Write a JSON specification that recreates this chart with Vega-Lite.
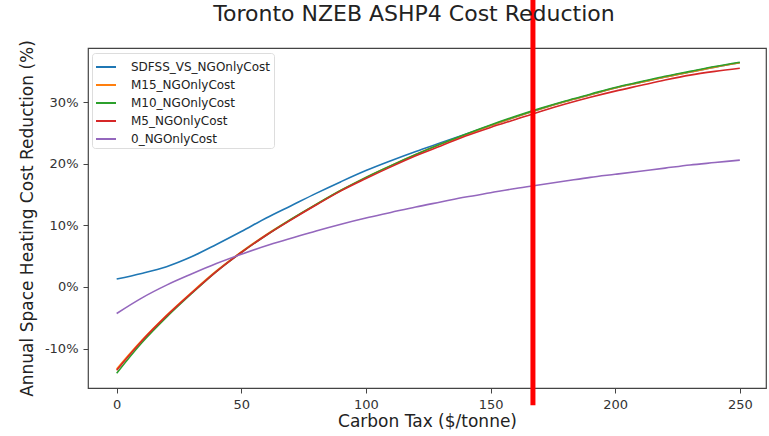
{
  "$schema": "https://vega.github.io/schema/vega-lite/v6.json",
  "width": 678,
  "height": 340,
  "autosize": {"type": "none"},
  "padding": {"left": 88, "top": 48, "right": 3, "bottom": 48},
  "background": "white",
  "config": {
    "font": "DejaVu Sans",
    "view": {"stroke": "#444", "strokeWidth": 1.2},
    "axis": {"grid": false, "domain": false, "tickColor": "#444", "tickSize": 5, "labelColor": "#333", "titleColor": "#222", "labelFontSize": 13, "titleFontSize": 17, "titleFontWeight": "normal", "labelFont": "DejaVu Sans", "titleFont": "DejaVu Sans"}
  },
  "title": {"text": "Toronto NZEB ASHP4 Cost Reduction", "fontSize": 22, "fontWeight": "normal", "font": "DejaVu Sans", "color": "#222", "offset": -29, "dx": -13},
  "datasets": {
    "curves": [
      {"tax":0,"series":"SDFSS_VS_NGOnlyCost","value":1.3},{"tax":10,"series":"SDFSS_VS_NGOnlyCost","value":2.2},{"tax":20,"series":"SDFSS_VS_NGOnlyCost","value":3.3},{"tax":30,"series":"SDFSS_VS_NGOnlyCost","value":4.9},{"tax":40,"series":"SDFSS_VS_NGOnlyCost","value":6.9},{"tax":50,"series":"SDFSS_VS_NGOnlyCost","value":9.0},{"tax":60,"series":"SDFSS_VS_NGOnlyCost","value":11.2},{"tax":70,"series":"SDFSS_VS_NGOnlyCost","value":13.2},{"tax":80,"series":"SDFSS_VS_NGOnlyCost","value":15.2},{"tax":90,"series":"SDFSS_VS_NGOnlyCost","value":17.1},{"tax":100,"series":"SDFSS_VS_NGOnlyCost","value":18.9},{"tax":110,"series":"SDFSS_VS_NGOnlyCost","value":20.5},{"tax":120,"series":"SDFSS_VS_NGOnlyCost","value":22.0},{"tax":130,"series":"SDFSS_VS_NGOnlyCost","value":23.4},{"tax":140,"series":"SDFSS_VS_NGOnlyCost","value":24.8},{"tax":150,"series":"SDFSS_VS_NGOnlyCost","value":26.2},{"tax":160,"series":"SDFSS_VS_NGOnlyCost","value":27.6},{"tax":170,"series":"SDFSS_VS_NGOnlyCost","value":28.9},{"tax":180,"series":"SDFSS_VS_NGOnlyCost","value":30.1},{"tax":190,"series":"SDFSS_VS_NGOnlyCost","value":31.2},{"tax":200,"series":"SDFSS_VS_NGOnlyCost","value":32.3},{"tax":210,"series":"SDFSS_VS_NGOnlyCost","value":33.2},{"tax":220,"series":"SDFSS_VS_NGOnlyCost","value":34.1},{"tax":230,"series":"SDFSS_VS_NGOnlyCost","value":34.9},{"tax":240,"series":"SDFSS_VS_NGOnlyCost","value":35.7},{"tax":250,"series":"SDFSS_VS_NGOnlyCost","value":36.4},
      {"tax":0,"series":"M15_NGOnlyCost","value":-13.3},{"tax":10,"series":"M15_NGOnlyCost","value":-8.7},{"tax":20,"series":"M15_NGOnlyCost","value":-4.6},{"tax":30,"series":"M15_NGOnlyCost","value":-0.9},{"tax":40,"series":"M15_NGOnlyCost","value":2.6},{"tax":50,"series":"M15_NGOnlyCost","value":5.7},{"tax":60,"series":"M15_NGOnlyCost","value":8.5},{"tax":70,"series":"M15_NGOnlyCost","value":11.0},{"tax":80,"series":"M15_NGOnlyCost","value":13.4},{"tax":90,"series":"M15_NGOnlyCost","value":15.7},{"tax":100,"series":"M15_NGOnlyCost","value":17.8},{"tax":110,"series":"M15_NGOnlyCost","value":19.7},{"tax":120,"series":"M15_NGOnlyCost","value":21.5},{"tax":130,"series":"M15_NGOnlyCost","value":23.2},{"tax":140,"series":"M15_NGOnlyCost","value":24.7},{"tax":150,"series":"M15_NGOnlyCost","value":26.2},{"tax":160,"series":"M15_NGOnlyCost","value":27.6},{"tax":170,"series":"M15_NGOnlyCost","value":28.9},{"tax":180,"series":"M15_NGOnlyCost","value":30.1},{"tax":190,"series":"M15_NGOnlyCost","value":31.2},{"tax":200,"series":"M15_NGOnlyCost","value":32.3},{"tax":210,"series":"M15_NGOnlyCost","value":33.2},{"tax":220,"series":"M15_NGOnlyCost","value":34.1},{"tax":230,"series":"M15_NGOnlyCost","value":34.9},{"tax":240,"series":"M15_NGOnlyCost","value":35.7},{"tax":250,"series":"M15_NGOnlyCost","value":36.4},
      {"tax":0,"series":"M10_NGOnlyCost","value":-14.0},{"tax":10,"series":"M10_NGOnlyCost","value":-9.1},{"tax":20,"series":"M10_NGOnlyCost","value":-4.9},{"tax":30,"series":"M10_NGOnlyCost","value":-1.1},{"tax":40,"series":"M10_NGOnlyCost","value":2.5},{"tax":50,"series":"M10_NGOnlyCost","value":5.6},{"tax":60,"series":"M10_NGOnlyCost","value":8.4},{"tax":70,"series":"M10_NGOnlyCost","value":11.0},{"tax":80,"series":"M10_NGOnlyCost","value":13.4},{"tax":90,"series":"M10_NGOnlyCost","value":15.7},{"tax":100,"series":"M10_NGOnlyCost","value":17.8},{"tax":110,"series":"M10_NGOnlyCost","value":19.7},{"tax":120,"series":"M10_NGOnlyCost","value":21.5},{"tax":130,"series":"M10_NGOnlyCost","value":23.2},{"tax":140,"series":"M10_NGOnlyCost","value":24.8},{"tax":150,"series":"M10_NGOnlyCost","value":26.3},{"tax":160,"series":"M10_NGOnlyCost","value":27.7},{"tax":170,"series":"M10_NGOnlyCost","value":29.0},{"tax":180,"series":"M10_NGOnlyCost","value":30.2},{"tax":190,"series":"M10_NGOnlyCost","value":31.3},{"tax":200,"series":"M10_NGOnlyCost","value":32.4},{"tax":210,"series":"M10_NGOnlyCost","value":33.3},{"tax":220,"series":"M10_NGOnlyCost","value":34.2},{"tax":230,"series":"M10_NGOnlyCost","value":35.0},{"tax":240,"series":"M10_NGOnlyCost","value":35.8},{"tax":250,"series":"M10_NGOnlyCost","value":36.5},
      {"tax":0,"series":"M5_NGOnlyCost","value":-13.5},{"tax":10,"series":"M5_NGOnlyCost","value":-8.8},{"tax":20,"series":"M5_NGOnlyCost","value":-4.7},{"tax":30,"series":"M5_NGOnlyCost","value":-1.0},{"tax":40,"series":"M5_NGOnlyCost","value":2.5},{"tax":50,"series":"M5_NGOnlyCost","value":5.6},{"tax":60,"series":"M5_NGOnlyCost","value":8.4},{"tax":70,"series":"M5_NGOnlyCost","value":10.9},{"tax":80,"series":"M5_NGOnlyCost","value":13.3},{"tax":90,"series":"M5_NGOnlyCost","value":15.6},{"tax":100,"series":"M5_NGOnlyCost","value":17.6},{"tax":110,"series":"M5_NGOnlyCost","value":19.5},{"tax":120,"series":"M5_NGOnlyCost","value":21.3},{"tax":130,"series":"M5_NGOnlyCost","value":22.9},{"tax":140,"series":"M5_NGOnlyCost","value":24.5},{"tax":150,"series":"M5_NGOnlyCost","value":25.9},{"tax":160,"series":"M5_NGOnlyCost","value":27.2},{"tax":170,"series":"M5_NGOnlyCost","value":28.5},{"tax":180,"series":"M5_NGOnlyCost","value":29.7},{"tax":190,"series":"M5_NGOnlyCost","value":30.8},{"tax":200,"series":"M5_NGOnlyCost","value":31.8},{"tax":210,"series":"M5_NGOnlyCost","value":32.7},{"tax":220,"series":"M5_NGOnlyCost","value":33.6},{"tax":230,"series":"M5_NGOnlyCost","value":34.4},{"tax":240,"series":"M5_NGOnlyCost","value":35.0},{"tax":250,"series":"M5_NGOnlyCost","value":35.5},
      {"tax":0,"series":"0_NGOnlyCost","value":-4.3},{"tax":10,"series":"0_NGOnlyCost","value":-1.8},{"tax":20,"series":"0_NGOnlyCost","value":0.3},{"tax":30,"series":"0_NGOnlyCost","value":2.1},{"tax":40,"series":"0_NGOnlyCost","value":3.8},{"tax":50,"series":"0_NGOnlyCost","value":5.3},{"tax":60,"series":"0_NGOnlyCost","value":6.7},{"tax":70,"series":"0_NGOnlyCost","value":7.9},{"tax":80,"series":"0_NGOnlyCost","value":9.1},{"tax":90,"series":"0_NGOnlyCost","value":10.2},{"tax":100,"series":"0_NGOnlyCost","value":11.2},{"tax":110,"series":"0_NGOnlyCost","value":12.1},{"tax":120,"series":"0_NGOnlyCost","value":13.0},{"tax":130,"series":"0_NGOnlyCost","value":13.8},{"tax":140,"series":"0_NGOnlyCost","value":14.6},{"tax":150,"series":"0_NGOnlyCost","value":15.3},{"tax":160,"series":"0_NGOnlyCost","value":16.0},{"tax":170,"series":"0_NGOnlyCost","value":16.6},{"tax":180,"series":"0_NGOnlyCost","value":17.2},{"tax":190,"series":"0_NGOnlyCost","value":17.8},{"tax":200,"series":"0_NGOnlyCost","value":18.3},{"tax":210,"series":"0_NGOnlyCost","value":18.8},{"tax":220,"series":"0_NGOnlyCost","value":19.3},{"tax":230,"series":"0_NGOnlyCost","value":19.8},{"tax":240,"series":"0_NGOnlyCost","value":20.2},{"tax":250,"series":"0_NGOnlyCost","value":20.6}
    ],
    "marker": [{"tax": 167, "top": 46.7, "bottom": -19.2}]
  },
  "layer": [
    {
      "data": {"name": "curves"},
      "mark": {"type": "line", "strokeWidth": 1.6, "interpolate": "monotone"},
      "encoding": {
        "x": {"field": "tax", "type": "quantitative", "scale": {"domain": [-11.5, 260.5], "nice": false, "zero": false}, "axis": {"values": [0, 50, 100, 150, 200, 250], "title": "Carbon Tax ($/tonne)", "titlePadding": 2, "labelPadding": 5}},
        "y": {"field": "value", "type": "quantitative", "scale": {"domain": [-16.4, 38.8], "nice": false, "zero": false}, "axis": {"values": [-10, 0, 10, 20, 30], "labelExpr": "datum.value + '%'", "title": "Annual Space Heating Cost Reduction (%)", "titlePadding": 8, "labelPadding": 5}},
        "color": {"field": "series", "type": "nominal", "sort": ["SDFSS_VS_NGOnlyCost", "M15_NGOnlyCost", "M10_NGOnlyCost", "M5_NGOnlyCost", "0_NGOnlyCost"],
          "scale": {"domain": ["SDFSS_VS_NGOnlyCost", "M15_NGOnlyCost", "M10_NGOnlyCost", "M5_NGOnlyCost", "0_NGOnlyCost"], "range": ["#1f77b4", "#ff7f0e", "#2ca02c", "#d62728", "#9467bd"]},
          "legend": {"title": null, "orient": "none", "legendX": 4, "legendY": 5, "symbolType": "stroke", "symbolSize": 400, "symbolStrokeWidth": 2, "labelFontSize": 12, "labelColor": "#222", "labelFont": "DejaVu Sans", "rowPadding": 1, "fillColor": "white", "strokeColor": "#ddd", "cornerRadius": 3, "padding": 3, "labelOffset": 14}
        }
      }
    },
    {
      "data": {"name": "marker"},
      "mark": {"type": "rule", "color": "#ff0000", "strokeWidth": 5, "clip": false},
      "encoding": {
        "x": {"field": "tax", "type": "quantitative"},
        "y": {"field": "top", "type": "quantitative"},
        "y2": {"field": "bottom"}
      }
    }
  ]
}
